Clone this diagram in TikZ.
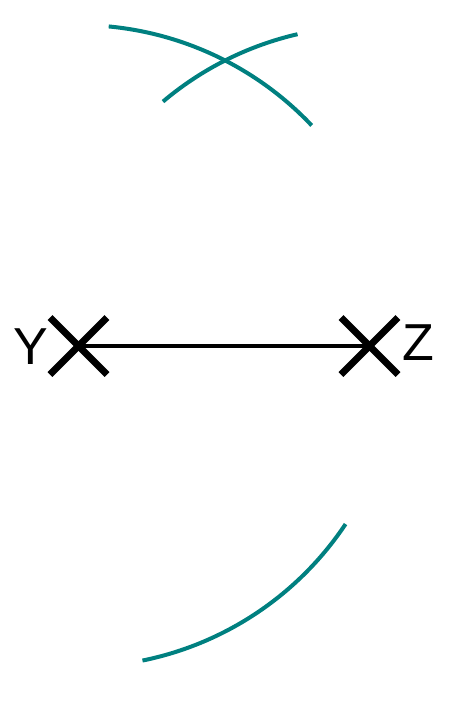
\documentclass[tikz,border=0pt]{standalone}
\usepackage{fontspec}
\setmainfont{Liberation Sans}
\definecolor{arcteal}{RGB}{0,128,128}
\begin{document}
\begin{tikzpicture}[x=1pt,y=1pt,
  crossmark/.style={line width=7pt,black},
  seg/.style={line width=4.5pt,black},
  arcline/.style={line width=4pt,arcteal},
  lbl/.style={font=\fontsize{52}{52}\selectfont,inner sep=0pt}]
\useasboundingbox (0,0) rectangle (475,-702);
\coordinate (Y) at (78.5,-346);
\coordinate (Z) at (369.5,-346);
\draw[seg] (Y) -- (Z);
\foreach \p in {Y,Z}{
  \draw[crossmark] ([shift={(-28.5,28.5)}]\p) -- ([shift={(28.5,-28.5)}]\p);
  \draw[crossmark] ([shift={(-28.5,-28.5)}]\p) -- ([shift={(28.5,28.5)}]\p);
}
\node[lbl] (ly) at (31,-347) {Y};
\node[lbl] (lz) at (418,-343) {Z};
\draw[arcline] ([shift={(84.6:321)}]Y) arc[start angle=84.6,end angle=43.4,radius=321];
\draw[arcline] ([shift={(-33.7:321)}]Y) arc[start angle=-33.7,end angle=-78.5,radius=321];
\draw[arcline] ([shift={(130.2:320)}]Z) arc[start angle=130.2,end angle=103.0,radius=320];
\end{tikzpicture}
\end{document}
